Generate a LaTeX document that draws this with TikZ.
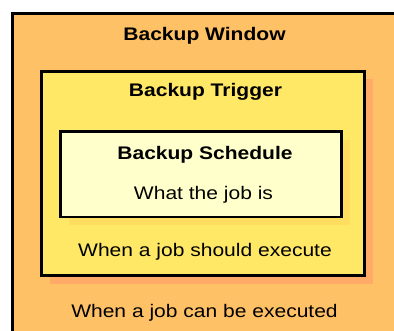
\documentclass[tikz,border=0pt]{standalone}
\usepackage{fontspec}
\setmainfont[FakeStretch=1.155]{Liberation Sans}
\definecolor{windowfill}{HTML}{FFC166}
\definecolor{triggerfill}{HTML}{FFE866}
\definecolor{triggershadow}{HTML}{FFAA66}
\definecolor{schedfill}{HTML}{FFFFCC}
\definecolor{schedshadow}{HTML}{FFDD5E}
\tikzset{
  frame/.style={draw=black, line width=3pt},
  label/.style={anchor=base, inner sep=0pt, font=\fontsize{18.2}{20}\selectfont},
  title/.style={label, font=\fontsize{18.2}{20}\selectfont\bfseries},
}
\begin{document}
\begin{tikzpicture}[x=1pt, y=-1pt]
  \useasboundingbox (0,0) rectangle (394,330);
  \clip (0,0) rectangle (394,330);
  % outer window box, running off the right and bottom edges
  \fill[white] (0,0) rectangle (394,330);
  \draw[frame, fill=windowfill] (12.5,13.5) rectangle (430,360);
  % trigger box with its shadow
  \fill[triggershadow] (49.5,79) rectangle (372.5,283.5);
  \draw[frame, fill=triggerfill] (41.5,71) rectangle (364,275.3);
  % schedule box with its shadow
  \fill[schedshadow] (68.5,139.5) rectangle (349.5,225);
  \draw[frame, line width=2.7pt, fill=schedfill] (60.5,131.5) rectangle (341.5,217);
  % labels
  \node[title] (win)   at (204.5,40.5)  {Backup Window};
  \node[title] (trig)  at (205.5,96.7)  {Backup Trigger};
  \node[title] (sched) at (205,159.3)   {Backup Schedule};
  \node[label] (what)  at (203.5,199.3) {What the job is};
  \node[label] (when1) at (205,256.5)   {When a job should execute};
  \node[label] (when2) at (204.5,317)   {When a job can be executed};
\end{tikzpicture}
\end{document}
